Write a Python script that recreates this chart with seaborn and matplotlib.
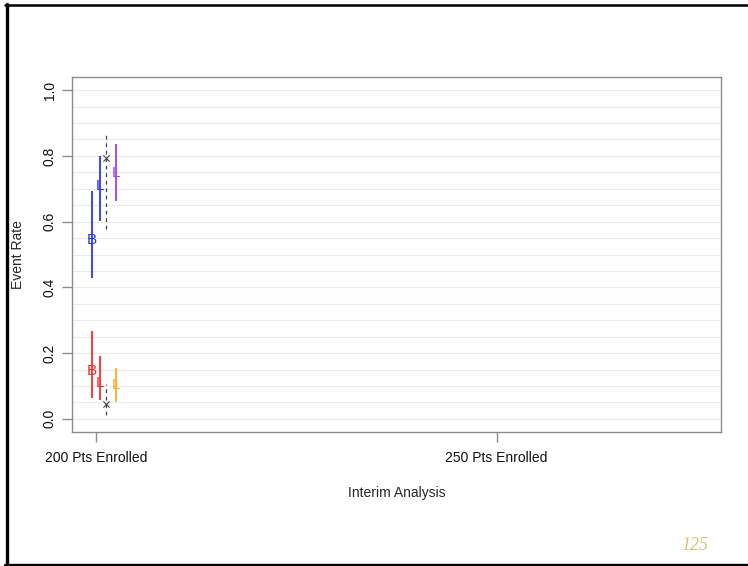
import matplotlib
matplotlib.use("Agg")
import matplotlib.pyplot as plt
from matplotlib.lines import Line2D
import numpy as np
import pandas as pd
import seaborn as sns

# Interim analysis positions
stage_labels = ["200 Pts Enrolled", "250 Pts Enrolled"]
stage_pos = [1, 2]

# Interval estimates at the first interim (x offset, centre, lower, upper, letter, colour)
est_x = [0.99, 1.01, 1.05, 0.99, 1.01, 1.05]
est_mid = [0.543, 0.707, 0.747, 0.146, 0.110, 0.104]
est_lo = [0.430, 0.601, 0.662, 0.064, 0.058, 0.052]
est_hi = [0.692, 0.799, 0.835, 0.268, 0.192, 0.155]
est_letter = ["B", "L", "L", "B", "L", "L"]
est_color = ["#2a35ff", "#2a35ff", "#a63cf0", "#ff2a2a", "#ff2a2a", "#ffaa22"]

# Observed rates with dashed ranges
obs_x = [1.025, 1.025]
obs_mid = [0.793, 0.046]
obs_lo = [0.579, 0.012]
obs_hi = [0.872, 0.107]

sns.set_style("white")
plt.rcParams["font.family"] = ["Liberation Sans", "DejaVu Sans"]

fig = plt.figure(figsize=(7.48, 5.66), dpi=100)
ax = fig.add_axes([72 / 748, 1 - 432 / 566, (721 - 72) / 748, (432 - 77) / 566])

ax.set_xlim(0.94, 2.56)
ax.set_ylim(-0.04, 1.04)

# light horizontal grid
for g in np.arange(0, 1.0001, 0.05):
    ax.axhline(g, color="#ebebeb", lw=0.9, zorder=0)

# solid interval bars with letter markers
for x, m, lo, hi, t, c in zip(est_x, est_mid, est_lo, est_hi, est_letter, est_color):
    ax.vlines(x, lo, hi, color=c, lw=1.3, zorder=2)
    ax.text(x, m, t, color=c, fontsize=11, ha="center", va="center", zorder=3)

# dashed ranges and cross markers
ax.vlines(obs_x, obs_lo, obs_hi, color="#444444", lw=0.9, linestyles=(0, (3, 3)), zorder=2)
obs_df = pd.DataFrame({"x": obs_x, "y": obs_mid})
sns.scatterplot(data=obs_df, x="x", y="y", marker="x", color="#444444", s=20,
                linewidth=0.8, ax=ax, zorder=4)

for s in ax.spines.values():
    s.set_color("#8c8c8c")
    s.set_linewidth(1.0)

ax.set_xticks(stage_pos)
ax.set_xticklabels(stage_labels, fontsize=10)
ax.set_yticks([0, 0.2, 0.4, 0.6, 0.8, 1.0])
ax.set_yticklabels(["0.0", "0.2", "0.4", "0.6", "0.8", "1.0"], fontsize=10,
                   rotation=90, va="center")
ax.tick_params(axis="both", length=7, width=1.0, color="#8c8c8c", direction="out",
               labelcolor="#111111", bottom=True, left=True)
ax.tick_params(axis="x", pad=7)
ax.tick_params(axis="y", pad=4)
ax.set_xlabel("Interim Analysis", fontsize=10, labelpad=15)
ax.set_ylabel("Event Rate", fontsize=10, labelpad=13)

# page number
fig.text(695 / 748, 1 - 546 / 566, "125", fontsize=13, color="#d6c278",
         family="Liberation Serif", style="italic", ha="center", va="center")

# frame lines on the page
def px(x, y):
    return x / 748, 1 - y / 566

fig.add_artist(Line2D(*zip(px(6.5, 4), px(6.5, 566)), color="black", lw=2.4,
                      transform=fig.transFigure))
fig.add_artist(Line2D(*zip(px(5, 5), px(748, 5)), color="black", lw=1.8,
                      transform=fig.transFigure))
fig.add_artist(Line2D(*zip(px(5, 564.5), px(748, 564.5)), color="black", lw=2.4,
                      transform=fig.transFigure))

fig.savefig("out.png", dpi=100)
